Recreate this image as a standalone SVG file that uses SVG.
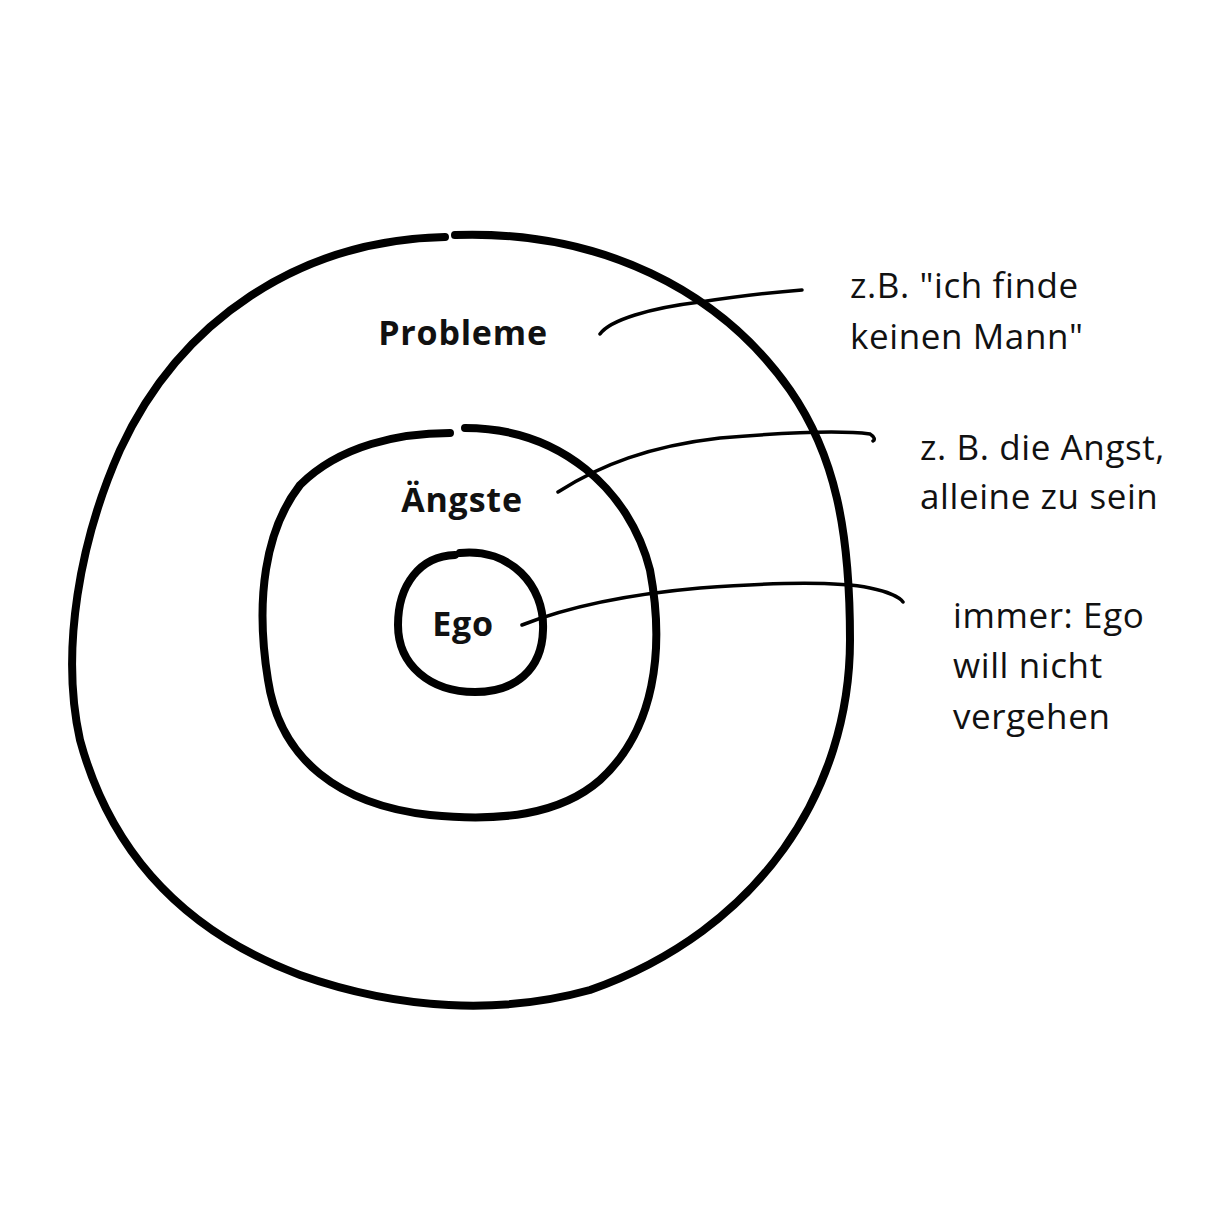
<svg xmlns="http://www.w3.org/2000/svg" width="1222" height="1222" viewBox="0 0 1222 1222">
<style>
.ring{fill:none;stroke:#000;stroke-linecap:round}
.lead{fill:none;stroke:#000;stroke-width:3.5;stroke-linecap:round}
.lbl{font-family:"Open Sans",sans-serif;font-weight:bold;font-size:34px;letter-spacing:0.8px;fill:#111}
.note{font-family:"Open Sans",sans-serif;font-size:35px;letter-spacing:0.6px;fill:#111}
</style>
<rect width="1222" height="1222" fill="#fff"/>
<g id="outer">
<path class="ring" stroke-width="8" d="M455 235 C600 230 720 290 790 390 C835 455 850 530 850 640 C850 790 760 930 590 990 C500 1015 400 1010 300 975 C180 930 110 850 80 740 C60 650 80 540 120 450 C180 320 300 240 445 237"/>
<text class="lbl" x="463" y="345" text-anchor="middle">Probleme</text>
</g>
<g id="middle">
<path class="ring" stroke-width="8" d="M465 428 C560 428 630 490 650 570 C665 650 655 730 600 780 C560 815 500 822 430 815 C340 805 280 760 268 680 C255 600 265 530 300 485 C340 445 400 433 450 433"/>
<text class="lbl" x="462" y="512" text-anchor="middle">Ängste</text>
</g>
<g id="inner">
<path class="ring" stroke-width="8" d="M460 553 C510 548 545 585 543 630 C542 670 515 692 475 692 C430 692 398 665 398 625 C398 585 420 556 455 555"/>
<text class="lbl" x="463" y="636" text-anchor="middle">Ego</text>
</g>
<g id="connectors">
<path class="lead" d="M600 334 C610 320 650 308 700 302 C740 296 775 292 802 290"/>
<path class="lead" d="M558 492 C600 465 650 446 720 438 C790 432 840 430 870 434 C875 437 875 440 873 441"/>
<path class="lead" d="M522 625 C560 610 620 595 700 588 C780 582 840 582 870 588 C890 592 900 598 903 602"/>
</g>
<g id="notes">
<text class="note" x="850" y="298">z.B. "ich finde</text>
<text class="note" x="850" y="349">keinen Mann"</text>
<text class="note" x="920" y="460">z. B. die Angst,</text>
<text class="note" x="920" y="509">alleine zu sein</text>
<text class="note" x="953" y="628">immer: Ego</text>
<text class="note" x="953" y="678">will nicht</text>
<text class="note" x="953" y="729">vergehen</text>
</g>
</svg>
